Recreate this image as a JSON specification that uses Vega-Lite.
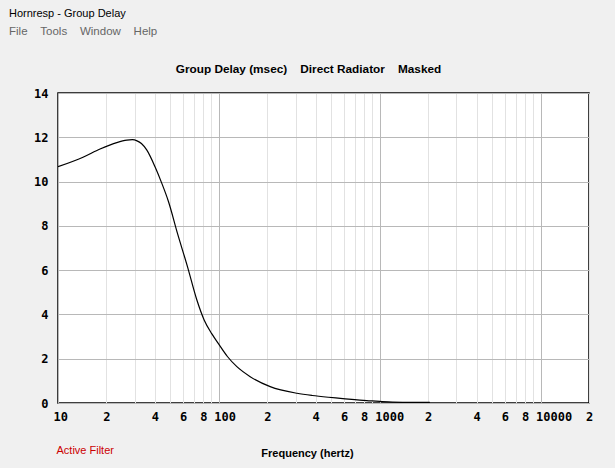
{
  "$schema": "https://vega.github.io/schema/vega-lite/v6.json",
  "autosize": "none",
  "width": 531,
  "height": 310,
  "padding": {"left": 58, "top": 93, "right": 26, "bottom": 65},
  "background": "#f0f0f0",
  "title": {
    "text": "Hornresp - Group Delay",
    "subtitle": "File\u00a0\u00a0\u00a0\u00a0Tools\u00a0\u00a0\u00a0\u00a0Window\u00a0\u00a0\u00a0\u00a0Help",
    "anchor": "start",
    "frame": "group",
    "dx": -49,
    "offset": 26,
    "font": "Liberation Sans",
    "fontSize": 11,
    "fontWeight": "normal",
    "color": "#000000",
    "subtitleFont": "Liberation Sans",
    "subtitleFontSize": 11.5,
    "subtitleColor": "#666666",
    "subtitlePadding": 7
  },
  "config": {
    "view": {"fill": "#ffffff", "stroke": "#000000", "strokeWidth": 1.5}
  },
  "data": {
    "values": [
      {"freq": 10, "delay": 10.67},
      {"freq": 14.3, "delay": 11.1},
      {"freq": 18.26, "delay": 11.47},
      {"freq": 23.2, "delay": 11.76},
      {"freq": 26.8, "delay": 11.87},
      {"freq": 29.0, "delay": 11.89},
      {"freq": 31.0, "delay": 11.84},
      {"freq": 33.0, "delay": 11.72},
      {"freq": 35.6, "delay": 11.43},
      {"freq": 40.1, "delay": 10.67},
      {"freq": 44.2, "delay": 9.92},
      {"freq": 48.6, "delay": 9.1},
      {"freq": 55.3, "delay": 7.66},
      {"freq": 63.8, "delay": 6.16},
      {"freq": 73.0, "delay": 4.65},
      {"freq": 81.0, "delay": 3.75},
      {"freq": 90.5, "delay": 3.12},
      {"freq": 99.4, "delay": 2.68},
      {"freq": 113, "delay": 2.1},
      {"freq": 129.4, "delay": 1.64},
      {"freq": 156.6, "delay": 1.19},
      {"freq": 208.5, "delay": 0.74},
      {"freq": 305.8, "delay": 0.44},
      {"freq": 380, "delay": 0.34},
      {"freq": 480, "delay": 0.26},
      {"freq": 570, "delay": 0.21},
      {"freq": 700, "delay": 0.15},
      {"freq": 870, "delay": 0.1},
      {"freq": 1000, "delay": 0.07},
      {"freq": 1200, "delay": 0.04},
      {"freq": 1600, "delay": 0.03},
      {"freq": 2050, "delay": 0.03}
    ]
  },
  "resolve": {"axis": {"x": "independent"}},
  "layer": [
    {
      "mark": {"type": "line", "color": "#000000", "strokeWidth": 1.2, "interpolate": "monotone", "clip": true},
      "encoding": {
        "x": {
          "field": "freq",
          "type": "quantitative",
          "scale": {"type": "log", "domain": [10, 20000], "nice": false},
          "axis": {
            "orient": "bottom",
            "values": [10, 20, 30, 40, 50, 60, 70, 80, 90, 100, 200, 300, 400, 500, 600, 700, 800, 900, 1000, 2000, 3000, 4000, 5000, 6000, 7000, 8000, 9000, 10000, 20000],
            "labelExpr": "indexof([10,100,1000,10000], datum.value) >= 0 ? toString(datum.value) : (indexof(['2','4','6','8'], substring(toString(datum.value),0,1)) >= 0 ? substring(toString(datum.value),0,1) : '')",
            "labelAlign": {"condition": {"test": "indexof([10,100,1000,10000], datum.value) >= 0", "value": "left"}, "value": "center"},
            "labelOffset": {"condition": {"test": "indexof([10,100,1000,10000], datum.value) >= 0", "value": -5}, "value": 0},
            "labelOverlap": false,
            "labelFlush": false,
            "labelFont": "DejaVu Sans Mono",
            "labelFontWeight": "bold",
            "labelFontSize": 12,
            "labelColor": "#000000",
            "labelPadding": 8,
            "ticks": false,
            "domain": false,
            "grid": true,
            "gridColor": {"condition": {"test": "indexof([10,100,1000,10000], datum.value) >= 0", "value": "#b8b8b8"}, "value": "#e2e2e2"},
            "gridWidth": 1,
            "title": "Frequency (hertz)",
            "titleFont": "Liberation Sans",
            "titleFontSize": 11,
            "titleFontWeight": "bold",
            "titleColor": "#000000",
            "titleX": 249,
            "titleY": 53,
            "titleAlign": "center",
            "titleBaseline": "alphabetic"
          }
        },
        "y": {
          "field": "delay",
          "type": "quantitative",
          "scale": {"domain": [0, 14], "nice": false, "zero": true},
          "axis": {
            "values": [0, 2, 4, 6, 8, 10, 12, 14],
            "labelFont": "DejaVu Sans Mono",
            "labelFontWeight": "bold",
            "labelFontSize": 12,
            "labelColor": "#000000",
            "labelPadding": 10,
            "ticks": false,
            "domain": false,
            "grid": true,
            "gridColor": "#b8b8b8",
            "gridWidth": 1,
            "title": "Active Filter",
            "titleAngle": 0,
            "titleAlign": "left",
            "titleBaseline": "alphabetic",
            "titleX": -2,
            "titleY": 360,
            "titleFont": "Liberation Sans",
            "titleFontSize": 11,
            "titleFontWeight": "normal",
            "titleColor": "#cc0000"
          }
        }
      }
    },
    {
      "mark": {"type": "point", "opacity": 0},
      "encoding": {
        "x": {
          "field": "freq",
          "type": "quantitative",
          "scale": {"type": "log", "domain": [10, 20000], "nice": false},
          "axis": {
            "orient": "top",
            "labels": false,
            "ticks": false,
            "domain": false,
            "grid": false,
            "title": "Group Delay (msec)\u00a0\u00a0\u00a0\u00a0Direct Radiator\u00a0\u00a0\u00a0\u00a0Masked",
            "titleFont": "Liberation Sans",
            "titleFontSize": 11.8,
            "titleFontWeight": "bold",
            "titleColor": "#000000",
            "titleX": 250,
            "titleY": -21,
            "titleAlign": "center",
            "titleBaseline": "alphabetic"
          }
        },
        "y": {"field": "delay", "type": "quantitative", "scale": {"domain": [0, 14], "nice": false, "zero": true}}
      }
    }
  ]
}
